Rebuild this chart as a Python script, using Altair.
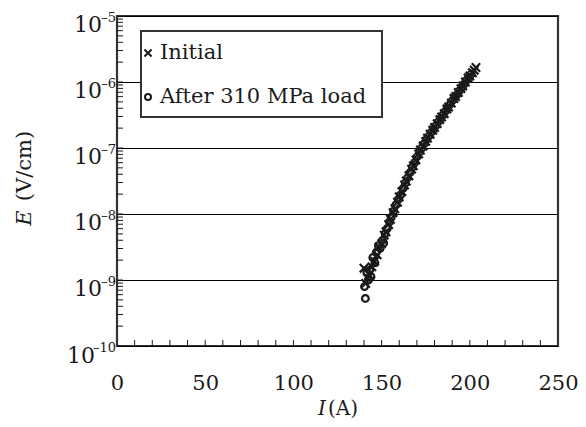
import altair as alt
import pandas as pd

# ---- data ----
initial_I = [140.0, 141.0, 142.0, 143.0, 144.5, 146.0, 147.5, 148.5, 150.0, 151.5,
             152.5, 154.0, 155.0, 156.5, 157.5, 159.0, 160.0, 161.5, 163.0, 164.0,
             165.5, 167.0, 168.0, 169.5, 171.0, 172.0, 173.5, 175.0, 176.0, 177.5,
             179.0, 180.0, 181.5, 183.0, 184.0, 185.5, 187.0, 188.0, 189.5, 191.0,
             192.0, 193.5, 195.0, 196.0, 197.5, 199.0, 200.0, 201.5, 202.5, 203.5]
initial_E = [1.51e-9, 8.9e-10, 1.07e-9, 1.20e-9, 1.58e-9, 1.91e-9, 2.40e-9, 3.16e-9, 3.55e-9, 4.79e-9,
             5.37e-9, 6.92e-9, 8.32e-9, 1.05e-8, 1.20e-8, 1.51e-8, 1.82e-8, 2.19e-8, 2.75e-8, 3.16e-8,
             3.80e-8, 4.79e-8, 5.37e-8, 6.61e-8, 8.13e-8, 9.33e-8, 1.07e-7, 1.26e-7, 1.41e-7, 1.62e-7,
             1.86e-7, 2.04e-7, 2.34e-7, 2.69e-7, 2.95e-7, 3.31e-7, 3.89e-7, 4.17e-7, 4.79e-7, 5.62e-7,
             6.03e-7, 6.92e-7, 7.94e-7, 8.71e-7, 1.00e-6, 1.15e-6, 1.23e-6, 1.38e-6, 1.51e-6, 1.66e-6]

after_I = [140.3, 140.8, 141.6, 142.5, 143.2, 144.0, 145.0, 146.2, 147.0, 148.2,
           149.2, 150.5, 151.2, 152.0, 153.2, 154.5, 155.5, 156.8, 158.2, 159.5,
           160.8, 162.2, 163.5, 164.8, 166.2, 167.5, 168.8, 170.2, 171.5, 172.8,
           174.2, 175.5, 176.8, 178.2, 179.5, 180.8, 182.2, 183.5, 184.8, 186.2,
           187.5, 188.8, 190.2, 191.5, 192.8, 194.2, 195.5, 196.8, 198.2, 199.5, 200.8]
after_E = [7.94e-10, 5.25e-10, 1.32e-9, 1.00e-9, 1.41e-9, 1.12e-9, 2.19e-9, 1.82e-9, 2.63e-9, 3.31e-9,
           3.02e-9, 3.98e-9, 3.63e-9, 5.01e-9, 6.03e-9, 7.59e-9, 8.91e-9, 1.10e-8, 1.38e-8, 1.66e-8,
           1.95e-8, 2.45e-8, 2.95e-8, 3.55e-8, 4.27e-8, 5.13e-8, 6.03e-8, 7.41e-8, 8.71e-8, 1.00e-7,
           1.17e-7, 1.35e-7, 1.51e-7, 1.74e-7, 1.95e-7, 2.19e-7, 2.51e-7, 2.82e-7, 3.16e-7, 3.63e-7,
           4.07e-7, 4.57e-7, 5.25e-7, 5.89e-7, 6.46e-7, 7.41e-7, 8.32e-7, 9.33e-7, 1.07e-6, 1.17e-6, 1.32e-6]

legend_labels = ["Initial", "After 310 MPa load"]

x_tick_labels = [0, 50, 100, 150, 200, 250]
x_minor_ticks = [10, 20, 30, 40, 50, 60, 70, 80, 90, 100, 110, 120, 130, 140, 150, 160,
                 170, 180, 190, 200, 210, 220, 230, 240]
y_decades = [1e-10, 1e-9, 1e-8, 1e-7, 1e-6, 1e-5]
y_exponents = ["\u201310", "\u20139", "\u20138", "\u20137", "\u20136", "\u20135"]
y_minor_ticks = [m * d for d in [1e-10, 1e-9, 1e-8, 1e-7, 1e-6] for m in range(1, 10)]

# ---- styling ----
FONT = "DejaVu Serif"
INK = "#1a1a1a"
W, H = 441, 330

xscale = alt.Scale(domain=[0, 250], nice=False, zero=False)
yscale = alt.Scale(type="log", domain=[1e-10, 1e-5], nice=False)

df_init = pd.DataFrame({"I": initial_I, "E": initial_E})
df_after = pd.DataFrame({"I": after_I, "E": after_E})

xaxis = alt.Axis(values=x_tick_labels, grid=False, ticks=False, domain=False, title=None,
                 labelFont=FONT, labelFontSize=21, labelColor=INK, labelPadding=26,
                 labelFlush=False)
yaxis = alt.Axis(values=y_decades, grid=True, gridColor="black", gridWidth=1.2,
                 labels=False, ticks=False, domain=False, title=None)

cross_path = "M-1,-1L1,1M-1,1L1,-1"

pts_init = alt.Chart(df_init).mark_point(
    shape=cross_path, size=70, filled=False, stroke=INK, strokeWidth=2.2, opacity=1
).encode(x=alt.X("I:Q", scale=xscale, axis=xaxis),
         y=alt.Y("E:Q", scale=yscale, axis=yaxis))

pts_after = alt.Chart(df_after).mark_point(
    shape="circle", size=45, filled=False, stroke=INK, strokeWidth=2.2, opacity=1
).encode(x=alt.X("I:Q", scale=xscale), y=alt.Y("E:Q", scale=yscale))

# inward minor ticks
df_xt = pd.DataFrame({"v": x_minor_ticks})
xticks = alt.Chart(df_xt).mark_rule(color=INK, strokeWidth=1).encode(
    x=alt.X("v:Q", scale=xscale), y=alt.value(H), y2=alt.value(H - 6))
df_yt = pd.DataFrame({"v": y_minor_ticks})
yticks = alt.Chart(df_yt).mark_rule(color=INK, strokeWidth=1).encode(
    y=alt.Y("v:Q", scale=yscale), x=alt.value(0), x2=alt.value(6))

# y tick labels: "10" with exponent
df_ylab = pd.DataFrame({"E": y_decades, "exp": y_exponents, "base": ["10"] * 6})
ybase_single = alt.Chart(df_ylab).transform_filter("length(datum.exp) == 2").mark_text(
    font=FONT, fontSize=22, color=INK, align="right", baseline="alphabetic", dy=16
).encode(y=alt.Y("E:Q", scale=yscale), x=alt.value(-15), text="base:N")
ybase_double = alt.Chart(df_ylab).transform_filter("length(datum.exp) == 3").mark_text(
    font=FONT, fontSize=22, color=INK, align="right", baseline="alphabetic", dy=17
).encode(y=alt.Y("E:Q", scale=yscale), x=alt.value(-22), text="base:N")
yexp = alt.Chart(df_ylab).mark_text(
    font=FONT, fontSize=13, color=INK, align="right", baseline="alphabetic", dy=6
).encode(y=alt.Y("E:Q", scale=yscale), x=alt.value(-1), text="exp:N")

# axis titles with italic symbols
one = pd.DataFrame({"k": [0]})
xt_sym = alt.Chart(one).mark_text(font=FONT, fontSize=20, fontStyle="italic", color=INK,
                                  align="right", baseline="middle").encode(
    x=alt.value(209), y=alt.value(393), text=alt.value("I"))
xt_unit = alt.Chart(one).mark_text(font=FONT, fontSize=20, color=INK,
                                   align="left", baseline="middle").encode(
    x=alt.value(211), y=alt.value(393), text=alt.value("(A)"))
yt_sym = alt.Chart(one).mark_text(font=FONT, fontSize=21, fontStyle="italic", color=INK,
                                  angle=270, align="center", baseline="middle").encode(
    x=alt.value(-92), y=alt.value(202), text=alt.value("E"))
yt_unit = alt.Chart(one).mark_text(font=FONT, fontSize=21, color=INK,
                                   angle=270, align="center", baseline="middle").encode(
    x=alt.value(-92), y=alt.value(150), text=alt.value("(V/cm)"))

# legend box
leg_box = alt.Chart(one).mark_rect(fill="white", stroke="#333", strokeWidth=2).encode(
    x=alt.value(24), x2=alt.value(265), y=alt.value(15), y2=alt.value(101))
leg_sym1 = alt.Chart(one).mark_point(shape=cross_path, size=50, filled=False, stroke=INK,
                                     strokeWidth=2, opacity=1).encode(
    x=alt.value(31), y=alt.value(37))
leg_sym2 = alt.Chart(one).mark_point(shape="circle", size=36, filled=False, stroke=INK,
                                     strokeWidth=2, opacity=1).encode(
    x=alt.value(31), y=alt.value(81))
leg_txt1 = alt.Chart(pd.DataFrame({"t": [legend_labels[0]]})).mark_text(
    font=FONT, fontSize=21, color=INK, align="left", baseline="middle").encode(
    x=alt.value(43), y=alt.value(37), text="t:N")
leg_txt2 = alt.Chart(pd.DataFrame({"t": [legend_labels[1]]})).mark_text(
    font=FONT, fontSize=21, color=INK, align="left", baseline="middle").encode(
    x=alt.value(43), y=alt.value(81), text="t:N")

chart = alt.layer(
    pts_init, pts_after, xticks, yticks, ybase_single, ybase_double, yexp,
    xt_sym, xt_unit, yt_sym, yt_unit,
    leg_box, leg_sym1, leg_sym2, leg_txt1, leg_txt2
).properties(
    width=W, height=H,
    autosize=alt.AutoSizeParams(type="none"),
    padding={"left": 117, "top": 16, "right": 28, "bottom": 81},
    background="white",
).configure_view(stroke="#333", strokeWidth=2.2)

chart.save("out.html", embed_options={"renderer": "svg", "actions": False})
